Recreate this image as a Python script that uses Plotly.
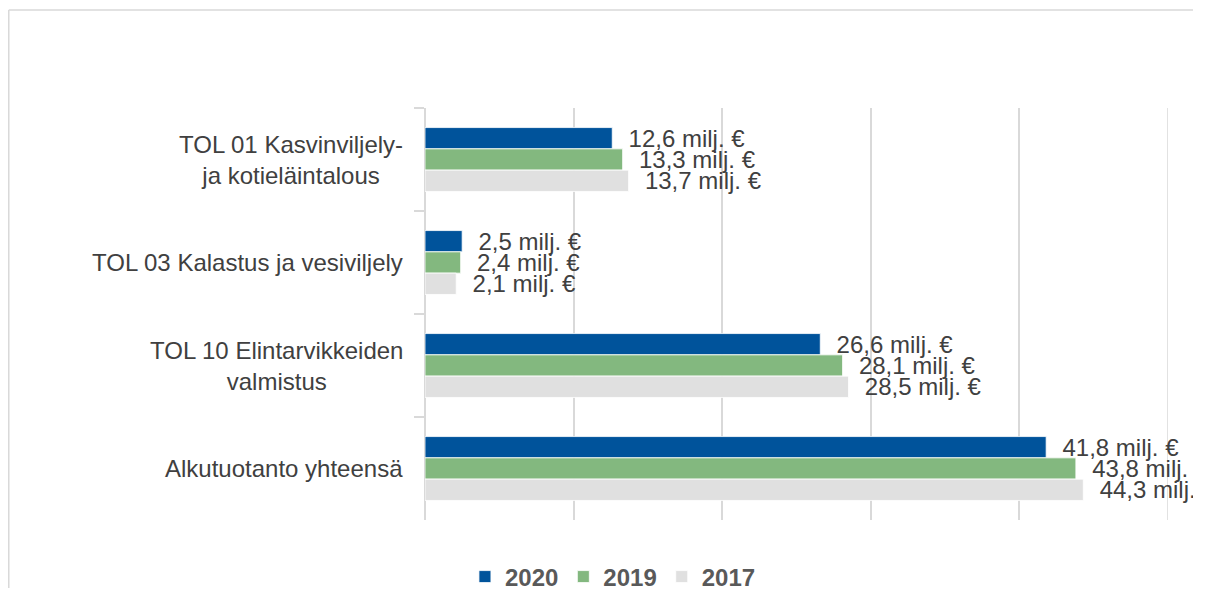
import plotly.graph_objects as go

categories = ["TOL 01 Kasvinviljely-<br>ja kotieläintalous",
              "TOL 03 Kalastus ja vesiviljely",
              "TOL 10 Elintarvikkeiden<br>valmistus",
              "Alkutuotanto yhteensä"]
series_names = ["2020", "2019", "2017"]
values_2020 = [12.6, 2.5, 26.6, 41.8]
values_2019 = [13.3, 2.4, 28.1, 43.8]
values_2017 = [13.7, 2.1, 28.5, 44.3]
x_ticks = [0, 10, 20, 30, 40, 50]
colors = ["#00539B", "#83B87F", "#E0E0E0"]

FONT = "Liberation Sans, Arial"
GRID = "#D9D9D9"

def fmt(v):
    return "\u00a0\u00a0" + f"{v:.1f}".replace(".", ",") + " milj. €"

fig = go.Figure()
for name, vals, col in zip(series_names, [values_2020, values_2019, values_2017], colors):
    fig.add_trace(go.Bar(
        y=categories, x=vals, name=name, orientation="h",
        marker=dict(color=col, line=dict(color="white", width=0.8)),
        text=[fmt(v) for v in vals], textposition="outside",
        constraintext="none", cliponaxis=False,
        textfont=dict(family=FONT, size=24, color="#404040"),
        hoverinfo="skip",
    ))

for c in categories:
    fig.add_annotation(x=-0.027, xref="paper", y=c, yref="y", text=c,
                       xanchor="right", yanchor="middle", align="center",
                       showarrow=False,
                       font=dict(family=FONT, size=24, color="#404040"))

# last gridline (plotly leaves out the one at the range end)
fig.add_vline(x=x_ticks[-1], line=dict(color=GRID, width=1.5), layer="below")

# chart frame: left and top edges
fig.add_shape(type="line", xref="paper", yref="paper",
              x0=-0.5602, x1=-0.5602, y0=-0.4, y1=1.2379,
              line=dict(color=GRID, width=1.5), layer="below")
fig.add_shape(type="line", xref="paper", yref="paper",
              x0=-0.5602, x1=1.3, y0=1.2379, y1=1.2379,
              line=dict(color=GRID, width=1.5), layer="below")

fig.update_layout(
    width=1185, height=580,
    margin=dict(l=417, r=25, t=100, b=68),
    paper_bgcolor="white", plot_bgcolor="white",
    barmode="group", bargap=0.38, bargroupgap=0,
    font=dict(family=FONT, size=24, color="#404040"),
    showlegend=True,
    legend=dict(orientation="h", traceorder="normal",
                xref="container", yref="container",
                x=0.5105, xanchor="center", y=0.019, yanchor="middle",
                font=dict(family=FONT, size=24, color="#595959", weight="bold"),
                itemwidth=30),
    xaxis=dict(range=[x_ticks[0], x_ticks[-1]], tickvals=x_ticks, showticklabels=False,
               showgrid=True, gridcolor=GRID, gridwidth=1.5,
               zeroline=True, zerolinecolor=GRID, zerolinewidth=1.5,
               showline=False),
    yaxis=dict(autorange="reversed", showticklabels=False,
               showline=False,
               ticks="outside", tickson="boundaries", ticklen=10,
               tickcolor=GRID, tickwidth=1.5, showgrid=False),
)

fig.write_html("out.html")
